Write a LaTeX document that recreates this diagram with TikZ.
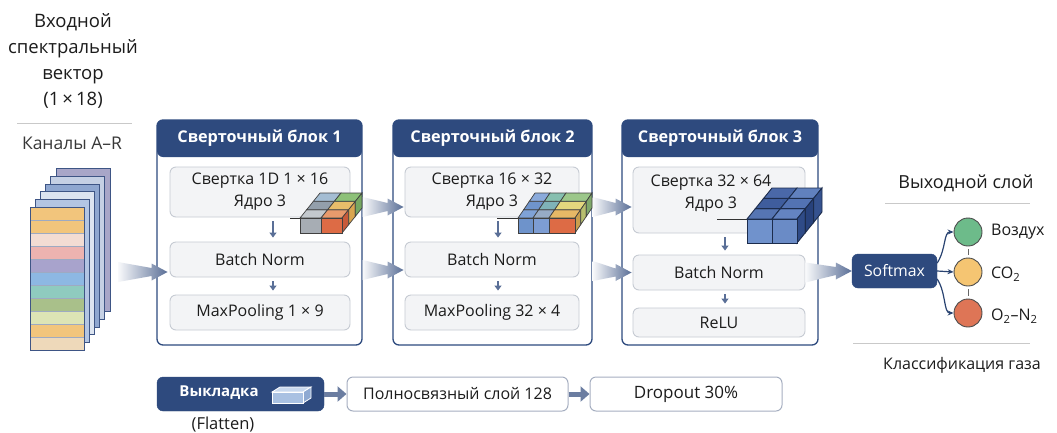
\documentclass[tikz,border=0pt]{standalone}
\usepackage{fontspec}
\setmainfont{Open Sans}
\usetikzlibrary{arrows.meta,calc}
\definecolor{hdr}{HTML}{2E4A7E}
\definecolor{arrowblue}{HTML}{5A6F97}
\definecolor{boxfill}{HTML}{F3F4F6}
\definecolor{boxline}{HTML}{C6CBD3}
\definecolor{txt}{HTML}{1C1C1C}
\definecolor{rulec}{HTML}{C9C9C9}
\definecolor{slabline}{HTML}{3E5585}
\definecolor{sA}{HTML}{A8A6C8}\definecolor{sB}{HTML}{C5D0E4}\definecolor{sC}{HTML}{8FA7D0}
\definecolor{sD}{HTML}{DCE4F0}\definecolor{sE}{HTML}{B3C5E3}
\definecolor{st1}{HTML}{F2C57C}\definecolor{st2}{HTML}{F2C57C}\definecolor{st3}{HTML}{F3DCD3}
\definecolor{st4}{HTML}{EDB3B0}\definecolor{st5}{HTML}{A8A3CC}\definecolor{st6}{HTML}{8DB8E3}
\definecolor{st7}{HTML}{8FCBBF}\definecolor{st8}{HTML}{A9C08A}\definecolor{st9}{HTML}{DDE4B5}
\definecolor{st10}{HTML}{F2C57C}\definecolor{st11}{HTML}{EED9BA}
\definecolor{cgreen}{HTML}{6DBB8A}\definecolor{corange}{HTML}{F5C572}\definecolor{cred}{HTML}{DE7556}
\definecolor{q1}{HTML}{C3C8CD}\definecolor{q2}{HTML}{E89A6C}\definecolor{q3}{HTML}{939FAB}
\definecolor{q4}{HTML}{E8BD6A}\definecolor{q5}{HTML}{A4BDD3}\definecolor{q6}{HTML}{8DC178}
\definecolor{q7}{HTML}{C85A3A}\definecolor{q8}{HTML}{D9A550}\definecolor{q9}{HTML}{76A862}
\definecolor{q10}{HTML}{A7ADB4}\definecolor{q11}{HTML}{DD6B45}
\definecolor{r1}{HTML}{7FA2D6}\definecolor{r2}{HTML}{97ABC6}\definecolor{r3}{HTML}{E6B866}
\definecolor{r4}{HTML}{6F94CC}\definecolor{r5}{HTML}{7FB3B8}\definecolor{r6}{HTML}{E3D77E}
\definecolor{r7}{HTML}{8AAADB}\definecolor{r8}{HTML}{86BFAF}\definecolor{r9}{HTML}{9CC78A}
\definecolor{r10}{HTML}{C99F4E}\definecolor{r11}{HTML}{B7BE6E}\definecolor{r12}{HTML}{7FA86A}
\definecolor{r13}{HTML}{6E93CB}\definecolor{r14}{HTML}{7D9DD3}\definecolor{r15}{HTML}{DD6B45}
\definecolor{u1}{HTML}{5675B3}\definecolor{u2}{HTML}{6484C2}\definecolor{u3}{HTML}{3F5D9D}
\definecolor{u4}{HTML}{5373B3}\definecolor{u5}{HTML}{4A68A8}\definecolor{u6}{HTML}{6181BE}
\definecolor{u7}{HTML}{2F4B87}\definecolor{u8}{HTML}{28427C}\definecolor{u9}{HTML}{35528F}
\definecolor{u10}{HTML}{7092CC}\definecolor{u11}{HTML}{6A8BC6}
\definecolor{v1}{HTML}{A9C1E2}\definecolor{v2}{HTML}{C9D9EE}\definecolor{v3}{HTML}{8FAAD2}
\newcommand\topcell[6]{\filldraw[fill=#6] (#1,#2) -- ++(#3,0) -- ++(#4,#5) -- ++(-#3,0) -- cycle;}
\newcommand\sidecell[6]{\filldraw[fill=#6] (#1,#2) -- ++(0,#3) -- ++(#4,#5) -- ++(0,-#3) -- cycle;}
\newcommand\garrow[2]{\shade[left color=white!96!arrowblue, right color=arrowblue]
  let \p1=(#1), \p2=(#2) in
  (\x1,\y1+10pt) -- (\x2-16pt,\y2+4pt) -- (\x2-16pt,\y2+8.5pt) -- (\x2,\y2) --
  (\x2-16pt,\y2-8.5pt) -- (\x2-16pt,\y2-4pt) -- (\x1,\y1-10pt) -- cycle;}
\begin{document}
\begin{tikzpicture}[x=1pt,y=-1pt,
  block/.style={draw=hdr,line width=1.3pt,fill=white,rounded corners=6pt,
    path picture={\fill[hdr] (path picture bounding box.north west) rectangle ([yshift=-37pt]path picture bounding box.north east);}},
  inbox/.style={draw=boxline,fill=boxfill,line width=0.9pt,rounded corners=6pt,text=txt,
    font=\fontsize{16}{22}\selectfont,inner sep=0pt,align=center},
  hdrtext/.style={text=white,font=\bfseries\fontsize{16.2}{18}\selectfont},
  plain/.style={text=txt,font=\fontsize{16}{19}\selectfont,inner sep=0pt},
  darr/.style={draw=arrowblue,line width=1.6pt,-{Triangle[length=5pt,width=7pt]},shorten <=4pt,shorten >=4pt},
  bigarr/.style={draw=arrowblue!90,line width=5pt,-{Triangle[length=9pt,width=15pt]}},
  botbox/.style={draw=boxline!70!arrowblue,fill=white!96!boxfill,line width=1pt,rounded corners=6pt,
    minimum height=34pt,text=txt,font=\fontsize{16}{19}\selectfont},
  darkbox/.style={fill=hdr,draw=hdr,rounded corners=6pt,text=white,font=\fontsize{15.8}{18}\selectfont},
  sarr/.style={draw=hdr!90!black,line width=1.2pt,-{Stealth[length=6pt,width=5pt]}},
  cls/.style={circle,draw=black!70,line width=0.9pt,minimum size=28pt,inner sep=0pt},
  rule/.style={draw=rulec,line width=1pt},
  c12/.style={draw=black!75,line width=0.7pt},
  c3e/.style={draw=hdr!60!black,line width=0.9pt}
]
\useasboundingbox (0,0) rectangle (1057,432);
\fill[white] (0,0) rectangle (1057,432);

% ---- input ----
\node[text=txt,font=\fontsize{18.5}{26}\selectfont,align=center,inner sep=0pt] (title) at (73,61)
  {Входной\\спектральный\\вектор\\(1\,×\,18)};
\draw[rule] (17,123) -- (132,123);
\node[plain,text=black!78,font=\fontsize{17.5}{20}\selectfont] (chan) at (72,143) {Каналы A–R};
\foreach \k/\c in {5/sA,4/sB,3/sC,2/sD,1/sE}{
  \filldraw[fill=\c,draw=slabline,line width=0.8pt] (30+\k*5.2,207-\k*7.7) rectangle (84+\k*5.2,350-\k*7.7);
}
\foreach \i/\c in {0/st1,1/st2,2/st3,3/st4,4/st5,5/st6,6/st7,7/st8,8/st9,9/st10,10/st11}{
  \filldraw[fill=\c,draw=slabline!50,line width=0.5pt] (30,207+\i*13) rectangle (84,220+\i*13);
}
\draw[slabline,line width=1pt] (30,207) rectangle (84,350);
\coordinate (inS) at (118,272);

% ---- blocks ----
\node[block,minimum width=205pt,minimum height=225pt] (b1) at (259.5,232.5) {};
\node[block,minimum width=199pt,minimum height=225pt] (b2) at (492.5,232.5) {};
\node[block,minimum width=196pt,minimum height=225pt] (b3) at (720,232.5) {};
\node[hdrtext] (t1) at (259.5,138.5) {Сверточный блок 1};
\node[hdrtext] (t2) at (492.5,138.5) {Сверточный блок 2};
\node[hdrtext] (t3) at (720,138.5) {Сверточный блок 3};

\node[inbox,minimum width=180pt,minimum height=50pt] (c1) at (260,192) {Свертка 1D 1 × 16\\Ядро 3};
\node[inbox,minimum width=174pt,minimum height=50pt] (c2) at (492,192) {Свертка 16 × 32\\Ядро 3};
\node[inbox,minimum width=172pt,minimum height=66pt] (c3) at (719,200) {};
\node[text=txt,font=\fontsize{16}{22}\selectfont,align=center,inner sep=0pt] (c3t) at (711,194) {Свертка 32 × 64\\Ядро 3};

\node[inbox,minimum width=180pt,minimum height=35pt] (bn1) at (260,259.5) {Batch Norm};
\node[inbox,minimum width=174pt,minimum height=35pt] (bn2) at (492,259.5) {Batch Norm};
\node[inbox,minimum width=172pt,minimum height=35pt] (bn3) at (719,272.5) {Batch Norm};
\node[inbox,minimum width=180pt,minimum height=35pt] (mp1) at (260,312.5) {MaxPooling 1 × 9};
\node[inbox,minimum width=174pt,minimum height=35pt] (mp2) at (492,312.5) {MaxPooling 32 × 4};
\node[inbox,minimum width=172pt,minimum height=29pt] (relu) at (719,322.5) {ReLU};

\draw[darr] ([xshift=13pt]c1.south) -- ([xshift=13pt]bn1.north);
\draw[darr] ([xshift=13pt]bn1.south) -- ([xshift=13pt]mp1.north);
\draw[darr] ([xshift=6pt]c2.south) -- ([xshift=6pt]bn2.north);
\draw[darr] ([xshift=6pt]bn2.south) -- ([xshift=6pt]mp2.north);
\draw[darr] ([xshift=6pt]c3.south) -- ([xshift=6pt]bn3.north);
\draw[darr] ([xshift=6pt]bn3.south) -- ([xshift=6pt]relu.north);

% ---- gradient arrows ----
\garrow{inS}{[xshift=-2pt,yshift=-12.5pt]bn1.west}
\garrow{[yshift=25.5pt]b1.east}{[xshift=-1pt,yshift=-15pt]c2.west}
\garrow{[yshift=-37.5pt]b1.east}{[xshift=-1pt,yshift=-10.5pt]bn2.west}
\garrow{[yshift=25.5pt]b2.east}{[xshift=-1pt,yshift=-7pt]c3.west}
\garrow{[yshift=-38.5pt]b2.east}{[xshift=-1pt]bn3.west}

% ---- cubes ----
\draw[black!80,line width=0.8pt] (290,218) -- (300,218);
\draw[black!80,line width=0.8pt] (497,218) -- (518,218);
\draw[black!80,line width=0.8pt] (717,219) -- (747,219);
\begin{scope}[c12]
\topcell{300}{218}{21}{6.67}{-8.33}{q1}\topcell{321}{218}{21}{6.67}{-8.33}{q2}
\topcell{306.67}{209.67}{21}{6.67}{-8.33}{q3}\topcell{327.67}{209.67}{21}{6.67}{-8.33}{q4}
\topcell{313.33}{201.33}{21}{6.67}{-8.33}{q5}\topcell{334.33}{201.33}{21}{6.67}{-8.33}{q6}
\sidecell{342}{218}{15}{6.67}{-8.33}{q7}\sidecell{348.67}{209.67}{15}{6.67}{-8.33}{q8}
\sidecell{355.33}{201.33}{15}{6.67}{-8.33}{q9}
\filldraw[fill=q10] (300,218) rectangle (321,233);
\filldraw[fill=q11] (321,218) rectangle (342,233);
\end{scope}
\begin{scope}[c12]
\topcell{518}{218}{15}{5.67}{-8.33}{r1}\topcell{533}{218}{16}{5.67}{-8.33}{r2}\topcell{549}{218}{26}{5.67}{-8.33}{r3}
\topcell{523.67}{209.67}{15}{5.67}{-8.33}{r4}\topcell{538.67}{209.67}{16}{5.67}{-8.33}{r5}\topcell{554.67}{209.67}{26}{5.67}{-8.33}{r6}
\topcell{529.33}{201.33}{15}{5.67}{-8.33}{r7}\topcell{544.33}{201.33}{16}{5.67}{-8.33}{r8}\topcell{560.33}{201.33}{26}{5.67}{-8.33}{r9}
\sidecell{575}{218}{15}{5.67}{-8.33}{r10}\sidecell{580.67}{209.67}{15}{5.67}{-8.33}{r11}\sidecell{586.33}{201.33}{15}{5.67}{-8.33}{r12}
\filldraw[fill=r13] (518,218) rectangle (533,233);
\filldraw[fill=r14] (533,218) rectangle (549,233);
\filldraw[fill=r15] (549,218) rectangle (575,233);
\end{scope}
\begin{scope}[c3e]
\topcell{747}{219}{25}{8.33}{-10.33}{u1}\topcell{772}{219}{25}{8.33}{-10.33}{u2}
\topcell{755.33}{208.67}{25}{8.33}{-10.33}{u3}\topcell{780.33}{208.67}{25}{8.33}{-10.33}{u4}
\topcell{763.67}{198.33}{25}{8.33}{-10.33}{u5}\topcell{788.67}{198.33}{25}{8.33}{-10.33}{u6}
\sidecell{797}{219}{24}{8.33}{-10.33}{u7}\sidecell{805.33}{208.67}{24}{8.33}{-10.33}{u8}\sidecell{813.67}{198.33}{24}{8.33}{-10.33}{u9}
\filldraw[fill=u10] (747,219) rectangle (772,243);
\filldraw[fill=u11] (772,219) rectangle (797,243);
\end{scope}

% ---- output ----
\node[darkbox,minimum width=85pt,minimum height=34pt] (sm) at (894.5,271) {Softmax};
\garrow{bn3.east}{sm.west}
\node[plain,font=\fontsize{18}{21}\selectfont] (outt) at (966,183) {Выходной слой};
\draw[rule] (885,203) -- (1030,203);
\draw[rule] (853,343) -- (1030,343);
\node[plain] (clst) at (962,365) {Классификация газа};
\node[cls,fill=cgreen] (o1) at (968,232) {};
\node[cls,fill=corange] (o2) at (968,272) {};
\node[cls,fill=cred] (o3) at (968,313) {};
\draw[black!60,line width=0.8pt,shorten <=3pt,shorten >=3pt] (o1) -- (o2);
\draw[black!60,line width=0.8pt,shorten <=3pt,shorten >=3pt] (o2) -- (o3);
\draw[sarr] ([yshift=8pt]sm.east) .. controls +(9,-14) and +(-10,0) .. (o1.west);
\draw[sarr] (sm.east) -- (o2.west);
\draw[sarr] ([yshift=-8pt]sm.east) .. controls +(9,14) and +(-10,0) .. (o3.west);
\node[plain,anchor=west] (l1) at (991,232) {Воздух};
\node[plain,anchor=west] (l2) at (991,274) {CO\textsubscript{2}};
\node[plain,anchor=west] (l3) at (991,316) {O\textsubscript{2}–N\textsubscript{2}};

% ---- bottom row ----
\node[darkbox,minimum width=167pt,minimum height=34pt] (fl) at (240.5,394) {};
\node[text=white,font=\bfseries\fontsize{15}{18}\selectfont,inner sep=0pt] (flt) at (219,393) {Выкладка};
\begin{scope}[draw=white,line width=0.8pt]
\filldraw[fill=v2] (272,392) -- (303,392) -- (311,387) -- (280,387) -- cycle;
\filldraw[fill=v3] (303,392) -- (311,387) -- (311,398) -- (303,403) -- cycle;
\filldraw[fill=v1] (272,392) rectangle (303,403);
\end{scope}
\node[plain,font=\fontsize{16.5}{19}\selectfont] (flc) at (223,425) {(Flatten)};
\node[botbox,minimum width=221pt] (fc) at (457.5,394) {Полносвязный слой 128};
\node[botbox,minimum width=192pt,font=\fontsize{17}{19}\selectfont] (drop) at (686,394) {Dropout 30\%};
\draw[bigarr] (fl) -- (fc);
\draw[bigarr] (fc) -- (drop);
\end{tikzpicture}
\end{document}
